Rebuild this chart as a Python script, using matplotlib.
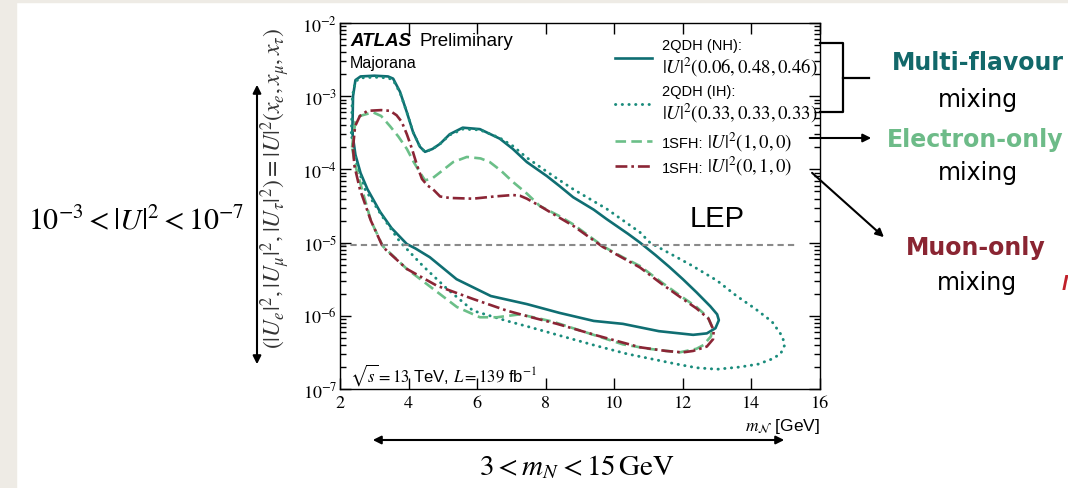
import numpy as np
import matplotlib.pyplot as plt
from matplotlib.lines import Line2D
from matplotlib.patches import FancyArrowPatch, Rectangle
from matplotlib.offsetbox import AnchoredOffsetbox, DrawingArea, HPacker, TextArea, VPacker
from matplotlib.ticker import FuncFormatter, LogLocator, MultipleLocator, NullLocator

plt.rcParams['font.family'] = ['Liberation Sans', 'DejaVu Sans']
plt.rcParams['mathtext.fontset'] = 'stix'

# exclusion contours: mass [GeV] and log10(|U|^2)
nh_mass = [2.36, 2.38, 2.45, 2.6, 3.0, 3.4, 3.55, 3.75, 3.95, 4.13, 4.33, 4.48, 4.7, 4.92, 5.2,
           5.58, 6.08, 6.66, 7.04, 7.45, 8.03, 8.41, 8.8, 9.4, 9.78, 10.4, 10.75, 11.2, 11.6,
           12.0, 12.4, 12.8, 13.0, 13.05, 12.95, 12.7, 12.3, 11.3, 10.25, 9.4, 8.4, 7.45, 6.4,
           5.4, 4.62, 4.2, 3.95, 3.5, 3.17, 2.8, 2.6, 2.45, 2.36]
nh_logu2 = [-3.5, -3.0, -2.78, -2.73, -2.72, -2.73, -2.76, -2.94, -3.22, -3.49, -3.69, -3.76,
            -3.72, -3.65, -3.52, -3.43, -3.45, -3.58, -3.72, -3.90, -4.09, -4.23, -4.38, -4.55,
            -4.68, -4.88, -5.0, -5.17, -5.33, -5.50, -5.68, -5.87, -5.98, -6.06, -6.17, -6.24,
            -6.26, -6.21, -6.11, -6.07, -5.96, -5.84, -5.73, -5.50, -5.20, -5.08, -5.02, -4.80,
            -4.58, -4.27, -4.05, -3.8, -3.5]

ih_mass = [2.33, 2.36, 2.45, 2.6, 3.0, 3.4, 3.55, 3.75, 3.95, 4.13, 4.33, 4.48, 4.7, 4.92, 5.2,
           5.58, 6.08, 6.66, 7.04, 7.45, 8.03, 8.41, 8.8, 9.78, 10.75, 11.04, 12.25, 13.0, 13.57,
           14.1, 14.6, 14.9, 14.97, 14.85, 14.6, 14.2, 13.66, 13.0, 12.4, 11.82, 10.37, 9.4,
           8.41, 7.5, 6.87, 5.88, 5.12, 4.42, 3.75, 3.2, 2.73, 2.5, 2.38, 2.33]
ih_logu2 = [-3.5, -3.0, -2.8, -2.75, -2.74, -2.75, -2.78, -2.95, -3.22, -3.49, -3.69, -3.76,
            -3.72, -3.65, -3.53, -3.45, -3.46, -3.57, -3.68, -3.84, -4.03, -4.15, -4.27, -4.54,
            -4.86, -5.0, -5.31, -5.52, -5.73, -5.9, -6.08, -6.28, -6.40, -6.52, -6.59, -6.66,
            -6.70, -6.73, -6.71, -6.66, -6.52, -6.40, -6.27, -6.15, -6.07, -5.93, -5.63, -5.32,
            -4.99, -4.62, -4.27, -3.95, -3.7, -3.5]

e_mass = [2.35, 2.38, 2.45, 2.58, 2.96, 3.2, 3.46, 3.7, 3.95, 4.15, 4.33, 4.48, 4.7, 4.92, 5.3,
          5.7, 6.1, 6.37, 6.7, 7.04, 7.45, 7.83, 8.41, 8.8, 9.67, 10.25, 10.75, 11.4, 12.0, 12.4,
          12.73, 12.85, 12.82, 12.6, 12.4, 11.9, 11.0, 10.25, 9.0, 8.21, 7.83, 7.25, 6.58, 6.08,
          5.41, 4.71, 3.95, 3.25, 2.9, 2.64, 2.45, 2.35]
e_logu2 = [-3.7, -3.58, -3.35, -3.27, -3.22, -3.27, -3.41, -3.55, -3.72, -3.90, -4.04, -4.15,
           -4.12, -4.04, -3.90, -3.83, -3.85, -3.90, -4.02, -4.17, -4.33, -4.50, -4.64, -4.75,
           -5.05, -5.20, -5.32, -5.55, -5.75, -5.88, -6.02, -6.15, -6.28, -6.40, -6.45, -6.50,
           -6.45, -6.39, -6.20, -6.08, -6.04, -5.98, -6.02, -6.02, -5.88, -5.63, -5.36, -5.05,
           -4.7, -4.27, -3.95, -3.7]

mu_mass = [2.38, 2.44, 2.58, 2.8, 3.2, 3.46, 3.65, 3.8, 3.95, 4.1, 4.25, 4.39, 4.55, 4.71, 4.92,
           5.2, 5.88, 6.5, 7.04, 7.25, 7.45, 7.83, 8.33, 8.8, 9.67, 10.75, 11.4, 12.0, 12.4,
           12.75, 12.9, 12.88, 12.7, 12.3, 12.0, 11.5, 10.75, 9.5, 8.33, 7.5, 6.87, 5.88, 4.83,
           3.95, 3.25, 2.9, 2.58, 2.42, 2.38]
mu_logu2 = [-3.7, -3.41, -3.27, -3.20, -3.19, -3.20, -3.26, -3.35, -3.52, -3.72, -3.95, -4.13,
            -4.22, -4.27, -4.37, -4.39, -4.40, -4.37, -4.35, -4.36, -4.40, -4.50, -4.64, -4.77,
            -5.06, -5.34, -5.57, -5.77, -5.90, -6.04, -6.2, -6.32, -6.42, -6.48, -6.50, -6.48,
            -6.43, -6.27, -6.11, -6.01, -5.93, -5.77, -5.59, -5.36, -5.06, -4.7, -4.27, -3.95,
            -3.7]

lep_u2 = 9.2e-6
lep_mass = [2.0, 15.35]

# legend: sans name plus serif math, two different sizes in the original
leg_names = ['2QDH (NH):', '2QDH (IH):', '1SFH:', '1SFH:']
leg_math = [r'$|U|^2(0.06, 0.48, 0.46)$', r'$|U|^2(0.33, 0.33, 0.33)$',
            r'$|U|^2(1, 0, 0)$', r'$|U|^2(0, 1, 0)$']

W, H = 1068, 489
fig = plt.figure(figsize=(W / 100, H / 100), dpi=100)
fig.patches.append(Rectangle((0, 0), 16 / W, 1, transform=fig.transFigure, color='#eeebe5', zorder=0))
fig.patches.append(Rectangle((0, 1 - 3 / H), 1, 3 / H, transform=fig.transFigure, color='#eeebe5', zorder=0))

ax = fig.add_axes([340 / W, 1 - 390 / H, 480 / W, 366 / H])

styles = [dict(color='#0f6e72', lw=1.9, linestyle='-'),
          dict(color='#1a8c7c', lw=2.1, linestyle=(0, (0.1, 2.2)), dash_capstyle='round'),
          dict(color='#6bbf88', lw=1.9, linestyle=(0, (4, 2))),
          dict(color='#8b2535', lw=1.9, linestyle=(0, (4.5, 1.5, 1, 1.5)))]

ax.plot(nh_mass, np.power(10.0, nh_logu2), **styles[0])
ax.plot(ih_mass, np.power(10.0, ih_logu2), **styles[1])
ax.plot(e_mass, np.power(10.0, e_logu2), **styles[2])
ax.plot(mu_mass, np.power(10.0, mu_logu2), **styles[3])
ax.plot(lep_mass, [lep_u2, lep_u2], color='#8a8a8a', lw=1.5, linestyle=(0, (3, 2)))

ax.set_yscale('log')
ax.set_xlim(2, 16)
ax.set_ylim(1e-7, 1e-2)
ax.xaxis.set_major_locator(MultipleLocator(2))
ax.xaxis.set_minor_locator(NullLocator())
ax.yaxis.set_major_locator(LogLocator(base=10))
ax.yaxis.set_minor_locator(LogLocator(base=10, subs=np.arange(2, 10)))
ax.yaxis.set_major_formatter(FuncFormatter(lambda v, p: r'$10^{%d}$' % round(np.log10(v))))
ax.tick_params(which='both', direction='in', top=True, right=True, width=1.0)
ax.tick_params(which='major', length=8)
ax.tick_params(which='minor', length=4)
ax.tick_params(axis='x', labelsize=13, pad=4, labelfontfamily='STIXGeneral')
ax.tick_params(axis='y', labelsize=13, pad=2)
for s in ax.spines.values():
    s.set_linewidth(1.0)

ax.set_ylabel(r'$(|U_e|^2, |U_\mu|^2, |U_\tau|^2) = |U|^2(x_e, x_\mu, x_\tau)$',
              loc='top', fontsize=17, color='#333333')
ax.yaxis.set_label_coords(-0.1, 0.99)
ax.set_xlabel(r'$m_{\mathcal{N}}$ [GeV]', loc='right', fontsize=12.5)
ax.xaxis.set_label_coords(1.0, -0.075)

ax.text(0.021, 0.951, 'ATLAS', transform=ax.transAxes, fontsize=13.5, fontweight='bold',
        fontstyle='italic', va='center', ha='left')
ax.text(0.165, 0.951, 'Preliminary', transform=ax.transAxes, fontsize=13.5, va='center', ha='left')
ax.text(0.021, 0.893, 'Majorana', transform=ax.transAxes, fontsize=11.5, va='center', ha='left')
ax.text(0.021, 0.041, r'$\sqrt{s} = 13$ TeV, $L = 139$ fb$^{-1}$', transform=ax.transAxes,
        fontsize=12, va='center', ha='left')
ax.text(13.0, 2.2e-5, 'LEP', fontsize=21, ha='center', va='center')

# legend built from packed boxes so that the two text sizes sit side by side
rows = []
for i, (name, math) in enumerate(zip(leg_names, leg_math)):
    sample = DrawingArea(26.5, 8, 0, 0)
    sample.add_artist(Line2D([0, 26.5], [4, 4], **styles[i]))
    name_box = TextArea(name, textprops=dict(size=10.5))
    math_box = TextArea(math, textprops=dict(size=13.5))
    if i < 2:
        label = VPacker(children=[name_box, math_box], align='left', pad=0, sep=2)
    else:
        label = HPacker(children=[name_box, math_box], align='baseline', pad=0, sep=3)
    rows.append(HPacker(children=[sample, label], align='center', pad=0, sep=7))
top_rows = VPacker(children=rows[:3], align='left', pad=0, sep=4)
legend_box = VPacker(children=[top_rows, rows[3]], align='left', pad=0, sep=1)
ax.add_artist(AnchoredOffsetbox(loc='upper left', child=legend_box, pad=0, borderpad=0,
                                frameon=False, bbox_to_anchor=(0.573, 0.958),
                                bbox_transform=ax.transAxes))


def fp(x, y):
    return (x / W, 1 - y / H)


def seg(xs, ys):
    pts = [fp(x, y) for x, y in zip(xs, ys)]
    fig.add_artist(Line2D([p[0] for p in pts], [p[1] for p in pts], transform=fig.transFigure,
                          color='black', lw=1.6))


def arrow(a, b, style):
    fig.add_artist(FancyArrowPatch(fp(*a), fp(*b), transform=fig.transFigure, arrowstyle=style,
                                   mutation_scale=12, lw=1.5, color='black'))


# bracket and arrows on the right
seg([820, 843, 843, 820], [44, 44, 113, 113])
seg([843, 869], [79, 79])
arrow((807, 139), (874, 139), '-|>')
arrow((810, 172), (886, 240), '-|>')
# range arrows
arrow((257, 83), (257, 368), '<|-|>')
arrow((370, 441), (787, 441), '<|-|>')

side = dict(fontsize=17, ha='center', va='center', family='DejaVu Sans')
fig.text(*fp(978, 63), 'Multi-flavour', color='#12686a', fontweight='bold', **side)
fig.text(*fp(978, 100), 'mixing', **side)
fig.text(*fp(975, 140), 'Electron-only', color='#6dbb88', fontweight='bold', **side)
fig.text(*fp(978, 173), 'mixing', **side)
fig.text(*fp(976, 248), 'Muon-only', color='#8a2532', fontweight='bold', **side)
fig.text(*fp(977, 283), 'mixing', **side)
fig.text(*fp(1062, 285), 'M', color='#c0202a', fontsize=16, fontweight='bold',
         fontstyle='italic', ha='left', va='center')

fig.text(*fp(136, 221), r'$10^{-3} < |U|^2 < 10^{-7}$', fontsize=21.5, ha='center', va='center')
fig.text(*fp(577, 467), r'$3 < m_N < 15\,\mathrm{GeV}$', fontsize=21, ha='center', va='center')

fig.savefig('out.png', dpi=100)
